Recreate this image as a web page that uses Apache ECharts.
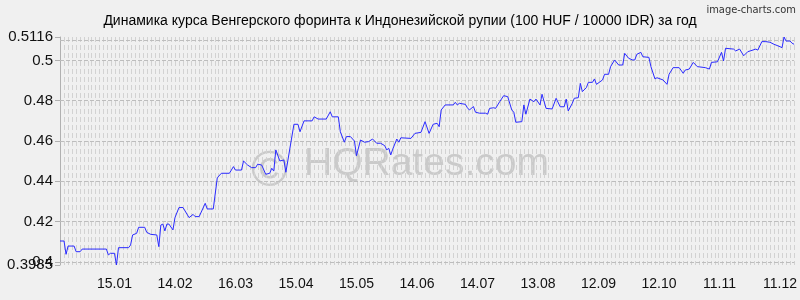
<!DOCTYPE html>
<html><head><meta charset="utf-8">
<script src="https://cdn.jsdelivr.net/npm/echarts@6/dist/echarts.min.js"></script>
<style>html,body{margin:0;padding:0;background:#f0f0f0}#c{width:800px;height:300px}</style>
</head><body><div id="c"></div>
<script>
const titleText = 'Динамика курса Венгерского форинта к Индонезийской рупии (100 HUF / 10000 IDR) за год';
const startDate = [2022, 11, 19];
const dayCount = 365;
const tickLabels = ['15.01','14.02','16.03','15.04','15.05','14.06','14.07','13.08','12.09','12.10','11.11','11.12'];
const yTicks = [0.3985, 0.4, 0.42, 0.44, 0.46, 0.48, 0.5, 0.5116];
const yTicksOverlapping = [0.4];
const pointDays = [0,2,3,4,7,8,10,11,23,24,25,27,28,29,34,35,36,38,39,42,43,45,48,49,50,51,52,53,54,56,57,59,61,64,66,67,69,72,73,76,78,80,84,86,87,90,91,93,95,97,98,100,102,104,105,106,107,109,111,112,116,118,119,121,123,125,126,128,132,134,135,138,139,141,142,144,146,147,149,151,153,155,157,159,161,162,163,164,165,167,168,169,174,176,179,181,183,185,187,188,189,191,195,196,197,198,201,202,203,205,206,208,211,212,213,215,216,218,220,222,224,225,226,229,230,231,233,235,236,238,239,241,244,246,248,250,251,252,254,255,257,258,259,261,262,264,265,266,269,270,272,273,275,277,279,280,282,284,285,286,288,289,292,293,295,296,299,301,302,304,307,309,310,312,314,316,320,322,323,326,328,329,330,334,335,337,339,341,345,346,348,350,352,354,357,358,359,360,362,363,364];
const rates = [0.4104,0.4104,0.4038,0.4079,0.4079,0.4051,0.4051,0.4064,0.4064,0.4035,0.4043,0.4043,0.3985,0.4071,0.4071,0.4084,0.4134,0.4142,0.4172,0.4172,0.4147,0.4137,0.4134,0.4076,0.4183,0.4188,0.4154,0.4188,0.4188,0.4159,0.4220,0.4270,0.4270,0.4220,0.4236,0.4225,0.4225,0.4291,0.4263,0.4263,0.4418,0.4440,0.4440,0.4473,0.4456,0.4456,0.4501,0.4481,0.4468,0.4468,0.4485,0.4481,0.4435,0.4440,0.4465,0.4451,0.4556,0.4501,0.4506,0.4445,0.4683,0.4683,0.4646,0.4700,0.4700,0.4700,0.4720,0.4709,0.4709,0.4745,0.4720,0.4720,0.4646,0.4594,0.4622,0.4622,0.4600,0.4527,0.4605,0.4594,0.4597,0.4610,0.4589,0.4589,0.4577,0.4556,0.4564,0.4531,0.4560,0.4610,0.4594,0.4616,0.4613,0.4638,0.4643,0.4696,0.4638,0.4683,0.4688,0.4671,0.4754,0.4779,0.4779,0.4792,0.4779,0.4787,0.4782,0.4765,0.4754,0.4771,0.4743,0.4738,0.4738,0.4733,0.4762,0.4765,0.4762,0.4795,0.4825,0.4820,0.4754,0.4743,0.4693,0.4696,0.4779,0.4733,0.4808,0.4795,0.4808,0.4779,0.4832,0.4762,0.4759,0.4812,0.4770,0.4770,0.4808,0.4749,0.4787,0.4812,0.4815,0.4886,0.4845,0.4865,0.4891,0.4891,0.4908,0.4881,0.4903,0.4931,0.4931,0.4969,0.5002,0.4977,0.4977,0.5035,0.5010,0.5002,0.5002,0.5030,0.5040,0.5018,0.5015,0.4969,0.4908,0.4914,0.4903,0.4881,0.4931,0.4964,0.4964,0.4936,0.4952,0.4957,0.4990,0.4969,0.4964,0.4957,0.4990,0.4993,0.5040,0.4997,0.5060,0.5056,0.5047,0.5056,0.5023,0.5043,0.5056,0.5051,0.5093,0.5093,0.5090,0.5080,0.5068,0.5063,0.5116,0.5096,0.5096,0.5085,0.5080];

const font = '"Liberation Sans", Arial, sans-serif';
const categories = [];
for (let i = 0; i < dayCount; i++) {
  const d = new Date(startDate[0], startDate[1], startDate[2] + i);
  categories.push(String(d.getDate()).padStart(2, '0') + '.' + String(d.getMonth() + 1).padStart(2, '0'));
}
const seriesData = pointDays.map((d, i) => [d, rates[i]]);
const fmt = v => String(+(+v).toFixed(4));
const mainLabels = yTicks.filter(v => yTicksOverlapping.indexOf(v) < 0);

const chart = echarts.init(document.getElementById('c'), null, {renderer: 'canvas'});
chart.setOption({
  animation: false,
  backgroundColor: '#f0f0f0',
  textStyle: {fontFamily: font},
  title: {
    text: titleText, left: 'center', top: 9,
    textStyle: {fontSize: 14, fontWeight: 'normal', color: '#000', fontFamily: font}
  },
  grid: {left: 60, right: 0, top: 37, bottom: 35, containLabel: false},
  xAxis: [{
    type: 'category', data: categories, boundaryGap: false,
    axisLine: {show: false}, axisTick: {show: false},
    splitLine: {show: false},
    axisLabel: {
      interval: (idx, val) => tickLabels.indexOf(val) >= 0,
      fontSize: 14, color: '#111', margin: 12, fontFamily: font, hideOverlap: false
    }
  }, {
    type: 'value', min: 0, max: 185, interval: 1, position: 'top',
    axisLine: {show: false}, axisTick: {show: false}, axisLabel: {show: false},
    splitLine: {show: true, lineStyle: {color: '#d2d2d2', width: 1, type: [5, 3]}}
  }],
  yAxis: [{
    type: 'value', min: 0.3985, max: 0.5116, position: 'left',
    axisLine: {show: true, lineStyle: {color: '#b0b0b0'}},
    axisTick: {show: true, length: 5, customValues: yTicks, lineStyle: {color: '#b0b0b0'}},
    splitLine: {show: false},
    axisLabel: {
      customValues: mainLabels, fontSize: 15, color: '#111', margin: 7, fontFamily: font,
      hideOverlap: false, showMinLabel: true, showMaxLabel: true, formatter: fmt
    }
  }, {
    type: 'value', min: 0.3985, max: 0.5116, position: 'left', offset: 0,
    axisLine: {show: false}, axisTick: {show: false}, splitLine: {show: false},
    axisLabel: {
      customValues: yTicksOverlapping, fontSize: 15, color: '#111', margin: 7, fontFamily: font,
      hideOverlap: false, formatter: fmt
    }
  }],
  graphic: [{
    type: 'text', left: 251, top: 147,
    style: {text: '©', font: '50px "Liberation Sans", Arial, sans-serif', fill: 'rgba(140,140,140,0.38)', textVerticalAlign: 'middle'},
    silent: true, z: 0
  }, {
    type: 'text', left: 304, top: 145,
    style: {text: 'HQRates.com', font: '39px "Liberation Sans", Arial, sans-serif', fill: 'rgba(140,140,140,0.38)', textVerticalAlign: 'middle'},
    silent: true, z: 0
  }, {
    type: 'text', right: 4, top: 5,
    style: {text: 'image-charts.com', font: '11px "DejaVu Sans Condensed", "Liberation Sans Narrow", sans-serif', fill: '#333'},
    silent: true
  }],
  series: [{
    type: 'line', data: seriesData, xAxisIndex: 0, yAxisIndex: 0, showSymbol: false, symbol: 'none',
    lineStyle: {color: '#2a2aff', width: 1}, z: 5,
    markLine: {
      silent: true, symbol: ['none', 'none'], label: {show: false},
      lineStyle: {color: '#bdbdbd', width: 1, type: [4, 2]},
      data: yTicks.map(v => ({yAxis: v}))
    }
  }]
});
</script>
</body></html>
